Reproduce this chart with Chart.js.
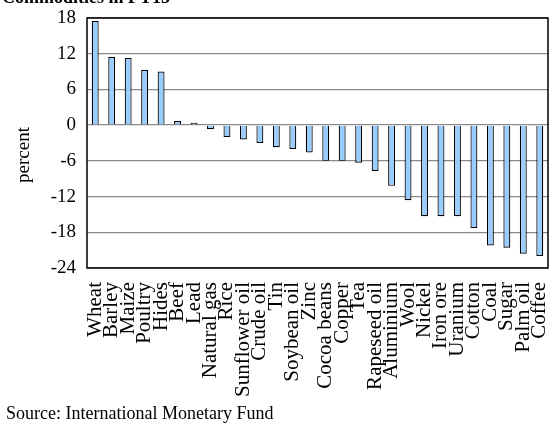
<!DOCTYPE html>
<html><head><meta charset="utf-8">
<script src="https://cdn.jsdelivr.net/npm/chart.js@4/dist/chart.umd.min.js"></script>
<style>html,body{margin:0;padding:0;background:#fff}#wrap{width:558px;height:426px;position:relative}</style>
</head><body><div id="wrap"><canvas id="c" width="558" height="426"></canvas></div>
<script>
const categories = ["Wheat","Barley","Maize","Poultry","Hides","Beef","Lead","Natural gas","Rice","Sunflower oil","Crude oil","Tin","Soybean oil","Zinc","Cocoa beans","Copper","Tea","Rapeseed oil","Aluminium","Wool","Nickel","Iron ore","Uranium","Cotton","Coal","Sugar","Palm oil","Coffee"];
const changes = [17.5,11.5,11.3,9.3,9.0,0.7,0.4,-0.7,-2.0,-2.4,-3.0,-3.7,-4.0,-4.6,-6.0,-6.0,-6.3,-7.7,-10.2,-12.6,-15.3,-15.3,-15.3,-17.3,-20.2,-20.6,-21.6,-22.0];
const yTicks = [18,12,6,0,-6,-12,-18,-24];
const titleText = "Commodities in FY15";
const yTitle = "percent";
const sourceText = "Source: International Monetary Fund";
const serif = "'Liberation Serif','Times New Roman',serif";

const boxPlugin = {
  id:'box',
  afterDraw(chart){
    const {ctx, chartArea:a} = chart;
    ctx.save();
    ctx.strokeStyle = '#000'; ctx.lineWidth = 1.5;
    ctx.strokeRect(a.left, a.top, a.right-a.left, a.bottom-a.top);
    ctx.fillStyle = '#000';
    ctx.textBaseline = 'alphabetic'; ctx.textAlign = 'left';
    ctx.font = "bold 18px " + serif;
    ctx.fillText(titleText, 2, 3);
    ctx.font = "18px " + serif;
    ctx.fillText(sourceText, 6, 419);
    ctx.translate(24, 155);
    ctx.rotate(-Math.PI/2);
    ctx.textAlign = 'center'; ctx.textBaseline = 'middle';
    ctx.font = "19px " + serif;
    ctx.fillText(yTitle, 0, 0);
    ctx.restore();
  }
};

new Chart(document.getElementById('c'), {
  type:'bar',
  data:{labels:categories, datasets:[{data:changes, backgroundColor:'#99CCFF', borderColor:'#000', borderWidth:1.2, barPercentage:0.42, categoryPercentage:1}]},
  options:{
    responsive:false, animation:false, devicePixelRatio:1,
    layout:{padding:{left:0,top:18,right:10,bottom:0}},
    plugins:{legend:{display:false}, tooltip:{enabled:false}},
    scales:{
      x:{
        grid:{display:false, drawTicks:false}, border:{display:false},
        ticks:{autoSkip:false, maxRotation:90, minRotation:90, padding:14, color:'#000', font:{family:serif, size:21}},
        afterFit(s){ s.height = 158; s.paddingLeft = 0; s.paddingRight = 0; }
      },
      y:{
        min:-24, max:18,
        afterBuildTicks(s){ s.ticks = yTicks.map(v=>({value:v})); },
        grid:{color:'#8a8a8a', lineWidth:1.3, drawTicks:false},
        border:{display:false},
        ticks:{padding:11, color:'#000', font:{family:serif, size:19}},
        afterFit(s){ s.width = 87; s.paddingTop = 0; s.paddingBottom = 0; }
      }
    }
  },
  plugins:[boxPlugin]
});
</script></body></html>
